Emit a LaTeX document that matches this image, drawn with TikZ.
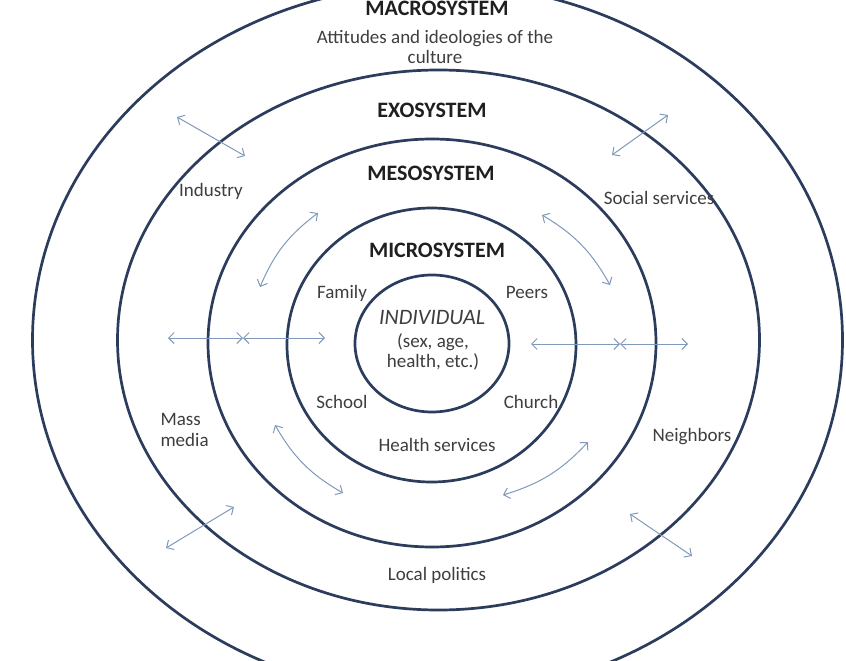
\documentclass[tikz,border=0pt]{standalone}
\usepackage{fontspec}
\setmainfont{Carlito}
\usetikzlibrary{arrows.meta}
\definecolor{ringblue}{RGB}{44,60,92}
\definecolor{linkblue}{RGB}{128,154,186}
\definecolor{labelgray}{RGB}{62,62,62}
\tikzset{
  ring/.style={draw=ringblue,line width=2.7pt},
  link/.style={draw=linkblue,line width=1pt,
    {Straight Barb[length=5.5pt,width=11pt]}-{Straight Barb[length=5.5pt,width=11pt]}},
  title/.style={font=\fontsize{22}{26}\selectfont\bfseries,text=black!88},
  lbl/.style={font=\fontsize{19}{20.5}\selectfont,text=labelgray,align=center},
}
\begin{document}
\begin{tikzpicture}[x=1pt,y=-1pt]
\useasboundingbox (0,0) rectangle (846,661);
\clip (0,0) rectangle (846,661);
\fill[white] (0,0) rectangle (846,661);
% rings, inside out
\draw[ring] (432,343.5) ellipse [x radius=77pt,y radius=68.5pt];
\draw[ring] (431.5,345) ellipse [x radius=144.5pt,y radius=137pt];
\draw[ring] (432,343) ellipse [x radius=224pt,y radius=204pt];
\draw[ring] (438.5,340) ellipse [x radius=321pt,y radius=270pt];
\draw[ring] (437.5,340) ellipse [x radius=405pt,y radius=356pt];
% titles
\node[title,anchor=base] (macro) at (437,16) {MACROSYSTEM};
\node[lbl] (culture) at (435,47) {Attitudes and ideologies of the\\culture};
\node[title] (exo) at (432,110) {EXOSYSTEM};
\node[title] (meso) at (431,173) {MESOSYSTEM};
\node[title] (micro) at (437,250) {MICROSYSTEM};
\node[lbl,font=\fontsize{22}{24}\selectfont\itshape] (indiv) at (432,318) {INDIVIDUAL};
\node[lbl] (traits) at (433,352) {(sex, age,\\health, etc.)};
% settings
\node[lbl] (family) at (342,293) {Family};
\node[lbl] (peers) at (527,292) {Peers};
\node[lbl] (school) at (342,402) {School};
\node[lbl] (church) at (531,402) {Church};
\node[lbl] (health) at (437,445) {Health services};
\node[lbl] (industry) at (211,191) {Industry};
\node[lbl] (social) at (659,198) {Social services};
\node[lbl,align=left,anchor=west] (media) at (157,430) {Mass\\media};
\node[lbl] (neighbors) at (692,437) {Neighbors};
\node[lbl] (politics) at (437,575) {Local politics};
% arrow ends
\coordinate (indA) at (177,117); \coordinate (indB) at (245,156);
\coordinate (socA) at (612,155); \coordinate (socB) at (668,115);
\coordinate (famA) at (318,213); \coordinate (famB) at (260,287);
\coordinate (peerA) at (542,215); \coordinate (peerB) at (610,285);
\coordinate (schA) at (275,425); \coordinate (schB) at (343,493);
\coordinate (chuA) at (588,442); \coordinate (chuB) at (503,495);
\coordinate (medA) at (166,548); \coordinate (medB) at (234,507);
\coordinate (neiA) at (630,514); \coordinate (neiB) at (692,556);
\coordinate (lfA) at (168,338); \coordinate (lfM) at (243,338); \coordinate (lfB) at (325,338);
\coordinate (rtA) at (531,344); \coordinate (rtM) at (620,344); \coordinate (rtB) at (688,344);
% links
\draw[link] (indA) -- (indB);
\draw[link] (socA) -- (socB);
\draw[link] (medA) -- (medB);
\draw[link] (neiA) -- (neiB);
\draw[link] (famA) to[bend right=15] (famB);
\draw[link] (peerA) to[bend left=15] (peerB);
\draw[link] (schA) to[bend right=15] (schB);
\draw[link] (chuA) to[bend left=15] (chuB);
\draw[link] (lfA) -- (lfM);
\draw[link] (lfM) -- (lfB);
\draw[link] (rtA) -- (rtM);
\draw[link] (rtM) -- (rtB);
\end{tikzpicture}
\end{document}
